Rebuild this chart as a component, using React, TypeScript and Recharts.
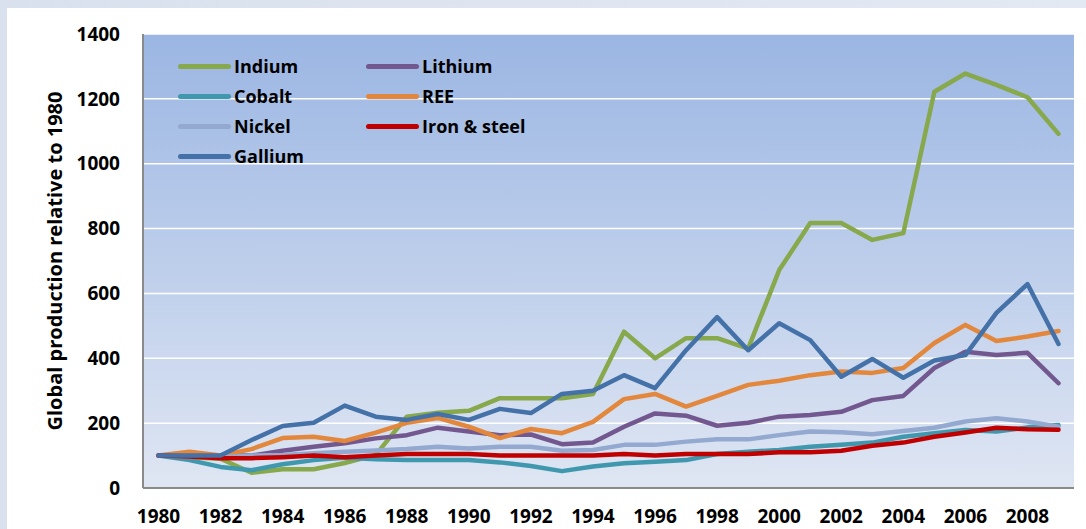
import { LineChart, Line, XAxis, YAxis, CartesianGrid } from "recharts";

const years = [
  1980, 1981, 1982, 1983, 1984, 1985, 1986, 1987, 1988, 1989,
  1990, 1991, 1992, 1993, 1994, 1995, 1996, 1997, 1998, 1999,
  2000, 2001, 2002, 2003, 2004, 2005, 2006, 2007, 2008, 2009,
];

const indium = [100, 95, 90, 47, 58, 58, 77, 102, 220, 232, 238, 277, 277, 277, 290, 482, 400, 462, 462, 430, 672, 817, 817, 765, 786, 1222, 1278, 1243, 1205, 1092];
const lithium = [100, 100, 100, 100, 115, 127, 138, 153, 163, 186, 174, 163, 165, 135, 140, 189, 230, 223, 192, 201, 220, 225, 235, 271, 284, 370, 420, 410, 417, 323];
const cobalt = [100, 86, 65, 55, 73, 86, 93, 89, 86, 86, 86, 79, 68, 52, 66, 76, 81, 86, 105, 112, 117, 127, 133, 140, 158, 169, 179, 174, 187, 194];
const ree = [100, 112, 100, 120, 154, 158, 145, 171, 201, 216, 189, 154, 182, 169, 204, 274, 290, 251, 284, 318, 331, 348, 359, 355, 370, 447, 503, 453, 467, 484];
const nickel = [100, 97, 95, 100, 102, 107, 112, 116, 120, 127, 122, 127, 127, 115, 117, 133, 133, 143, 150, 150, 163, 174, 172, 166, 176, 186, 205, 215, 205, 189];
const ironSteel = [100, 97, 92, 92, 95, 100, 95, 100, 105, 105, 105, 100, 100, 100, 100, 105, 100, 105, 105, 105, 110, 110, 115, 130, 140, 158, 171, 186, 181, 180];
const gallium = [100, 100, 100, 148, 191, 201, 254, 220, 210, 228, 210, 244, 231, 290, 300, 348, 308, 425, 527, 425, 508, 456, 343, 398, 340, 393, 410, 540, 629, 444];

const yTicks = [0, 200, 400, 600, 800, 1000, 1200, 1400];

const series = [
  { key: "Indium", values: indium, color: "#87A84B" },
  { key: "Lithium", values: lithium, color: "#72588F" },
  { key: "Cobalt", values: cobalt, color: "#3F98AE" },
  { key: "REE", values: ree, color: "#E2873B" },
  { key: "Nickel", values: nickel, color: "#93A9CF" },
  { key: "Iron & steel", values: ironSteel, color: "#C00000" },
  { key: "Gallium", values: gallium, color: "#4472A8" },
];

const data = years.map((year, i) => {
  const row: Record<string, number> = { year };
  series.forEach((s) => {
    row[s.key] = s.values[i];
  });
  return row;
});

const font = "'Open Sans', 'Noto Sans', sans-serif";

function LegendBox() {
  return (
    <div
      style={{
        position: "absolute",
        left: 178,
        top: 51,
        display: "grid",
        gridTemplateColumns: "188px 188px",
        fontFamily: font,
        fontWeight: 700,
        fontSize: 18,
        color: "#000",
      }}
    >
      {series.map((s) => (
        <div key={s.key} style={{ display: "flex", alignItems: "center", height: 30 }}>
          <span
            style={{
              width: 53,
              height: 5,
              borderRadius: 3,
              background: s.color,
              marginRight: 3,
            }}
          />
          <span>{s.key}</span>
        </div>
      ))}
    </div>
  );
}

export default function App() {
  return (
    <div
      style={{
        position: "fixed",
        left: 0,
        top: 0,
        width: 1086,
        height: 529,
        background: "linear-gradient(90deg, #d9e1ee, #e3e9f3)",
      }}
    >
      <div style={{ position: "absolute", left: 7, top: 8, right: 0, bottom: 0, background: "#fff" }} />
      <div style={{ position: "absolute", left: 0, top: 0 }}>
        <LineChart width={1086} height={529} data={data} margin={{ top: 34, right: 12, left: 0, bottom: 0 }}>
          <defs>
            <linearGradient id="plotBg" x1="0" y1="0" x2="0" y2="1">
              <stop offset="0%" stopColor="#9BB6E3" />
              <stop offset="100%" stopColor="#DFE6F3" />
            </linearGradient>
          </defs>
          <CartesianGrid
            vertical={false}
            stroke="#ffffff"
            strokeWidth={1.5}
            fill="url(#plotBg)"
            fillOpacity={1}
          />
          <XAxis
            dataKey="year"
            interval={1}
            height={41}
            padding={{ left: 15.5, right: 15.5 }}
            tickSize={0}
            tickMargin={22}
            axisLine={{ stroke: "#8a8a8a", strokeWidth: 2 }}
            tick={{ fill: "#000", fontSize: 19, fontWeight: 700, fontFamily: font }}
          />
          <XAxis xAxisId="top" orientation="top" dataKey="year" height={0} tick={false} tickLine={false} axisLine={{ stroke: "#c8c8c8", strokeWidth: 1.5 }} />
          <YAxis
            domain={[0, 1400]}
            ticks={yTicks}
            width={143}
            tickSize={0}
            tickMargin={23}
            axisLine={{ stroke: "#8a8a8a", strokeWidth: 2 }}
            tick={{ fill: "#000", fontSize: 19, fontWeight: 700, fontFamily: font }}
            label={{
              value: "Global production relative to 1980",
              angle: -90,
              position: "center",
              dx: -17,
              style: { fill: "#000", fontSize: 20, fontWeight: 700, fontFamily: font },
            }}
          />
          <YAxis yAxisId="right" orientation="right" width={0} tick={false} tickLine={false} axisLine={{ stroke: "#c0c0c0", strokeWidth: 3 }} />
          {series.map((s) => (
            <Line
              key={s.key}
              type="linear"
              dataKey={s.key}
              stroke={s.color}
              strokeWidth={4.5}
              strokeLinejoin="round"
              strokeLinecap="round"
              dot={false}
              activeDot={false}
              isAnimationActive={false}
            />
          ))}
        </LineChart>
      </div>
      <LegendBox />
    </div>
  );
}
